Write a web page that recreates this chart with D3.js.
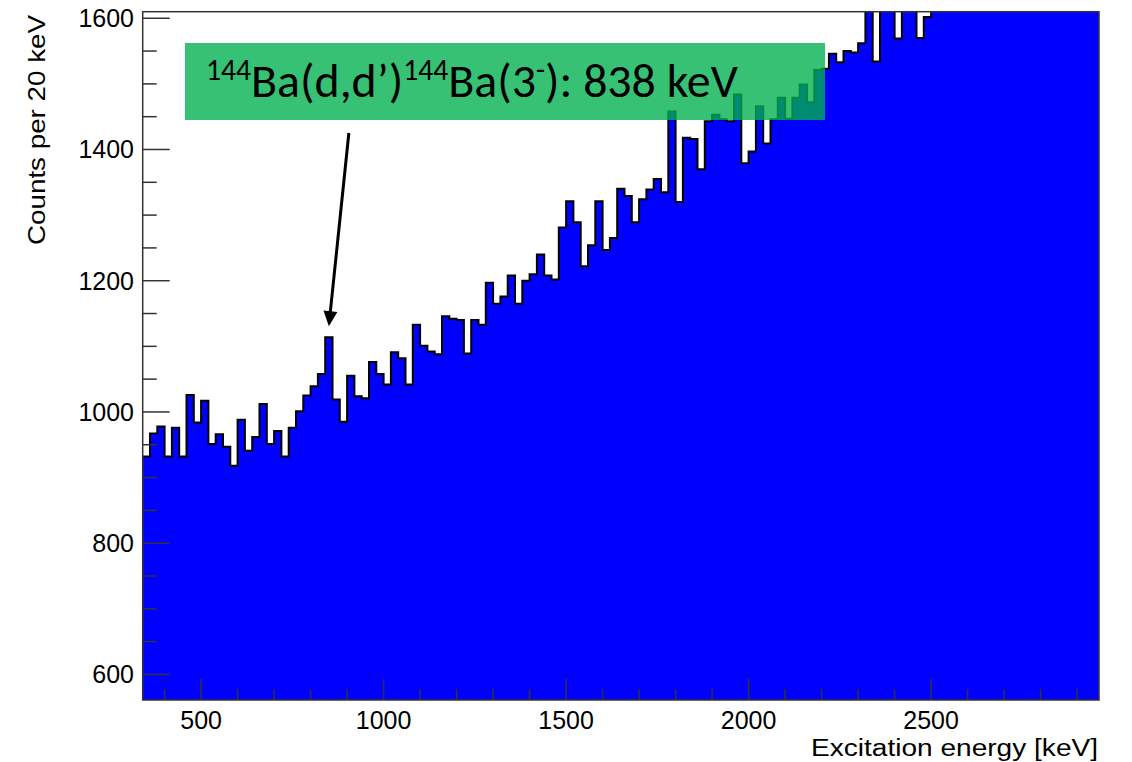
<!DOCTYPE html>
<html>
<head>
<meta charset="utf-8">
<script src="https://cdn.jsdelivr.net/npm/d3@7"></script>
<style>
  body { margin: 0; background: #fff; }
  svg { display: block; }
</style>
</head>
<body>
<svg width="1132" height="762"></svg>
<script>
// histogram: 20 keV bins starting at 340 keV
var binStart = 340;
var binWidth = 20;
var counts = [
  932, 967, 978, 932, 976, 932, 1026, 984, 1017, 951,
  966, 947, 918, 988, 941, 962, 1012, 951, 971, 932,
  976, 1001, 1025, 1039, 1058, 1114, 1019, 985, 1055, 1024,
  1021, 1076, 1058, 1042, 1091, 1082, 1042, 1133, 1101, 1092,
  1088, 1146, 1142, 1140, 1089, 1140, 1133, 1197, 1165, 1176,
  1208, 1165, 1200, 1210, 1240, 1208, 1202, 1281, 1321, 1289,
  1222, 1254, 1321, 1247, 1265, 1340, 1329, 1289, 1324, 1339,
  1355, 1335, 1458, 1320, 1418, 1416, 1370, 1443, 1453, 1446,
  1443, 1484, 1379, 1397, 1466, 1409, 1446, 1479, 1447, 1479,
  1499, 1472, 1521, 1523, 1546, 1533, 1550, 1548, 1562, 1640,
  1534, 1650, 1630, 1569, 1660, 1645, 1570, 1602, 1640, 1660,
  1650, 1680, 1670, 1690, 1700, 1685, 1710, 1720, 1705, 1730,
  1745, 1725, 1750, 1760, 1740, 1770, 1780, 1765, 1790, 1800,
  1785
];
var xTicks = [500, 1000, 1500, 2000, 2500];
var yTicks = [600, 800, 1000, 1200, 1400, 1600];
var xTitle = 'Excitation energy [keV]';
var yTitle = 'Counts per 20 keV';
var peakBin = 840;
var labelParts = [
  {t: '144', sup: true}, {t: 'Ba(d,d\u2019)'},
  {t: '144', sup: true}, {t: 'Ba(3'},
  {t: '-', sup: true}, {t: '): 838 keV'}
];

var svg = d3.select('svg');
var fLeft = 142.7, fRight = 1099, fTop = 11.7, fBottom = 700;

var x = d3.scaleLinear().domain([340, 2960]).range([fLeft, fRight]);
var y = d3.scaleLinear().domain([561, 1610]).range([fBottom, fTop]);

svg.append('clipPath').attr('id', 'frame')
  .append('rect')
  .attr('x', fLeft).attr('y', fTop)
  .attr('width', fRight - fLeft).attr('height', fBottom - fTop);

var pts = counts.map(function(c, i) { return [binStart + i * binWidth, c]; });
pts.push([binStart + counts.length * binWidth, counts[counts.length - 1]]);

var plot = svg.append('g').attr('clip-path', 'url(#frame)');

plot.append('path')
  .datum(pts)
  .attr('fill', '#0000ff')
  .attr('d', d3.area()
    .curve(d3.curveStepAfter)
    .x(function(d) { return x(d[0]); })
    .y0(fBottom)
    .y1(function(d) { return y(d[1]); }));

plot.append('path')
  .datum(pts)
  .attr('fill', 'none')
  .attr('stroke', '#000')
  .attr('stroke-width', 2)
  .attr('d', d3.line()
    .curve(d3.curveStepAfter)
    .x(function(d) { return x(d[0]); })
    .y(function(d) { return y(d[1]); }));

// ticks, drawn inside the frame like ROOT
var axisColor = '#333';
var xMinor = d3.range(400, 2960, 100).filter(function(v) { return v % 500 != 0; });
var yMinor = d3.range(650, 1600, 50).filter(function(v) { return v % 200 != 0; });

var ticks = svg.append('g').attr('stroke', axisColor).attr('stroke-width', 1.5);
xTicks.forEach(function(v) {
  ticks.append('line').attr('x1', x(v)).attr('x2', x(v)).attr('y1', fBottom).attr('y2', fBottom - 21);
});
xMinor.forEach(function(v) {
  ticks.append('line').attr('x1', x(v)).attr('x2', x(v)).attr('y1', fBottom).attr('y2', fBottom - 11);
});
yTicks.forEach(function(v) {
  ticks.append('line').attr('x1', fLeft).attr('x2', fLeft + 27).attr('y1', y(v)).attr('y2', y(v));
});
yMinor.forEach(function(v) {
  ticks.append('line').attr('x1', fLeft).attr('x2', fLeft + 14).attr('y1', y(v)).attr('y2', y(v));
});

svg.append('rect')
  .attr('x', fLeft).attr('y', fTop)
  .attr('width', fRight - fLeft).attr('height', fBottom - fTop)
  .attr('fill', 'none').attr('stroke', axisColor).attr('stroke-width', 1.5);

var font = '"Liberation Sans", Arial, Helvetica, sans-serif';

svg.append('g').selectAll('text')
  .data(xTicks).enter().append('text')
  .attr('x', function(d) { return x(d); })
  .attr('y', 729)
  .attr('text-anchor', 'middle')
  .style('font-family', font).style('font-size', '25px')
  .text(function(d) { return d; });

svg.append('g').selectAll('text')
  .data(yTicks).enter().append('text')
  .attr('x', 134)
  .attr('y', function(d) { return y(d) + 9; })
  .attr('text-anchor', 'end')
  .style('font-family', font).style('font-size', '25px')
  .text(function(d) { return d; });

svg.append('text')
  .attr('x', 1098).attr('y', 756)
  .attr('text-anchor', 'end')
  .attr('textLength', 287).attr('lengthAdjust', 'spacingAndGlyphs')
  .style('font-family', font).style('font-size', '23px')
  .text(xTitle);

svg.append('text')
  .attr('transform', 'translate(45,15) rotate(-90)')
  .attr('text-anchor', 'end')
  .attr('textLength', 230).attr('lengthAdjust', 'spacingAndGlyphs')
  .style('font-family', font).style('font-size', '24px')
  .text(yTitle);

// annotation box
svg.append('rect')
  .attr('x', 185).attr('y', 43).attr('width', 640).attr('height', 77)
  .attr('fill', '#00b050').attr('opacity', 0.79);

var label = svg.append('text')
  .attr('x', 206).attr('y', 97)
  .style('font-family', 'Carlito, Calibri, Lato, "Open Sans", sans-serif')
  .attr('fill', '#000');

function drawLabel(fs) {
  label.selectAll('tspan').remove();
  label.style('font-size', fs + 'px');
  var shift = 0.36 * fs, lifted = false;
  labelParts.forEach(function(p) {
    var dy = 0;
    if (p.sup && !lifted) { dy = -shift; lifted = true; }
    if (!p.sup && lifted) { dy = shift; lifted = false; }
    label.append('tspan')
      .attr('dy', dy)
      .style('font-size', (p.sup ? 0.62 * fs : fs) + 'px')
      .text(p.t);
  });
}
drawLabel(44);
var w = label.node().getComputedTextLength();
drawLabel(44 * 532 / w);

// arrow to the 838 keV peak
var tipX = x(peakBin + binWidth / 2);
var tipY = y(counts[(peakBin - binStart) / binWidth]) - 11;
var tailX = tipX + 20, tailY = 133;
var ang = Math.atan2(tipY - tailY, tipX - tailX);
var hl = 15, hw = 7;
svg.append('line')
  .attr('x1', tailX).attr('y1', tailY)
  .attr('x2', tipX - hl * Math.cos(ang) * 0.8).attr('y2', tipY - hl * Math.sin(ang) * 0.8)
  .attr('stroke', '#000').attr('stroke-width', 3);
var bx = tipX - hl * Math.cos(ang), by = tipY - hl * Math.sin(ang);
svg.append('path')
  .attr('d', 'M' + tipX + ',' + tipY +
    'L' + (bx + hw * Math.sin(ang)) + ',' + (by - hw * Math.cos(ang)) +
    'L' + (bx - hw * Math.sin(ang)) + ',' + (by + hw * Math.cos(ang)) + 'Z')
  .attr('fill', '#000');
</script>
</body>
</html>
